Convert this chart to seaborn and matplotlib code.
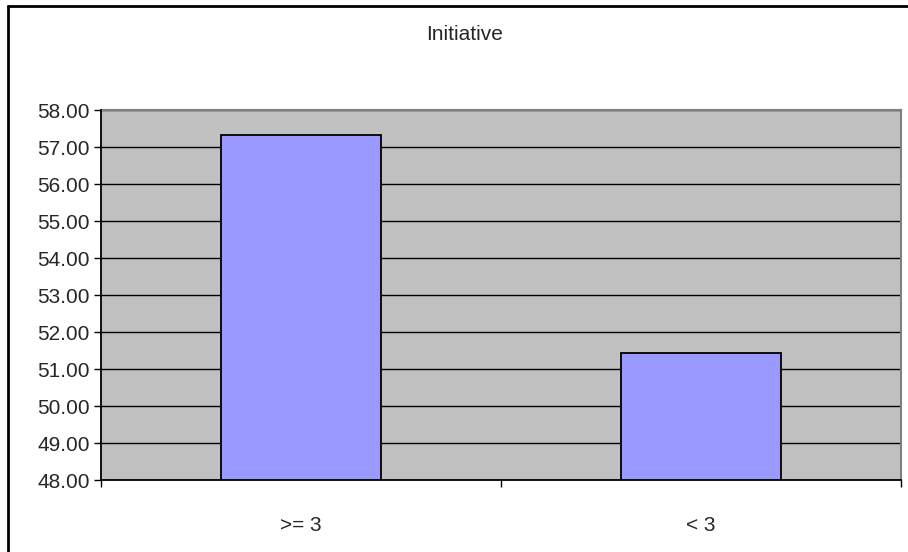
import matplotlib
matplotlib.use("Agg")
import matplotlib.pyplot as plt
from matplotlib.lines import Line2D
import seaborn as sns
import pandas as pd

# Data
categories = [">= 3", "< 3"]
values = [57.33, 51.43]
y_ticks = [48, 49, 50, 51, 52, 53, 54, 55, 56, 57, 58]
title = "Initiative"

sns.set_style("white")
plt.rcParams["font.family"] = ["Liberation Sans", "DejaVu Sans"]

W, H = 908, 552
fig = plt.figure(figsize=(W / 100, H / 100), dpi=100)
fig.patch.set_facecolor("white")

# plot area in pixel coordinates
left, right, top, bottom = 101, 901, 110, 480
ax = fig.add_axes([left / W, 1 - bottom / H, (right - left) / W, (bottom - top) / H])
ax.set_facecolor("#C0C0C0")

df = pd.DataFrame({"group": categories, "score": values})
sns.barplot(data=df, x="group", y="score", order=categories, width=0.4,
            color="#9999FF", saturation=1, edgecolor="black", linewidth=1.3,
            ax=ax, zorder=3)

fs = 15
ax.set_ylim(48, 58)
ax.set_xlim(-0.5, 1.5)
ax.set_yticks(y_ticks)
ax.set_yticklabels([f"{v:.2f}" for v in y_ticks], fontsize=fs)
ax.yaxis.grid(True, color="black", linewidth=1.0, zorder=1)
ax.set_axisbelow(True)
ax.set_xlabel("")
ax.set_ylabel("")

ax.tick_params(axis="y", which="major", left=True, length=5, width=1,
               color="black", pad=3)
ax.set_xticks([0, 1])
ax.set_xticklabels(categories, fontsize=fs)
ax.tick_params(axis="x", which="major", length=0, pad=26)
ax.set_xticks([-0.5, 0.5, 1.5], minor=True)
ax.tick_params(axis="x", which="minor", bottom=True, length=5, width=1,
               color="black")

for side in ["left", "bottom"]:
    ax.spines[side].set_color("black")
    ax.spines[side].set_linewidth(1.3)
    ax.spines[side].set_zorder(4)
for side in ["top", "right"]:
    ax.spines[side].set_color("#808080")
    ax.spines[side].set_linewidth(1.5)

fig.text(465 / W, 1 - 34 / H, title, ha="center", va="center", fontsize=fs)

# chart area frame (top and left edges)
fig.add_artist(Line2D([8 / W, 1], [1 - 6 / H, 1 - 6 / H], color="black",
                      linewidth=2, transform=fig.transFigure))
fig.add_artist(Line2D([8 / W, 8 / W], [0, 1 - 6 / H], color="black",
                      linewidth=2, transform=fig.transFigure))

fig.savefig("out.png", dpi=100)
